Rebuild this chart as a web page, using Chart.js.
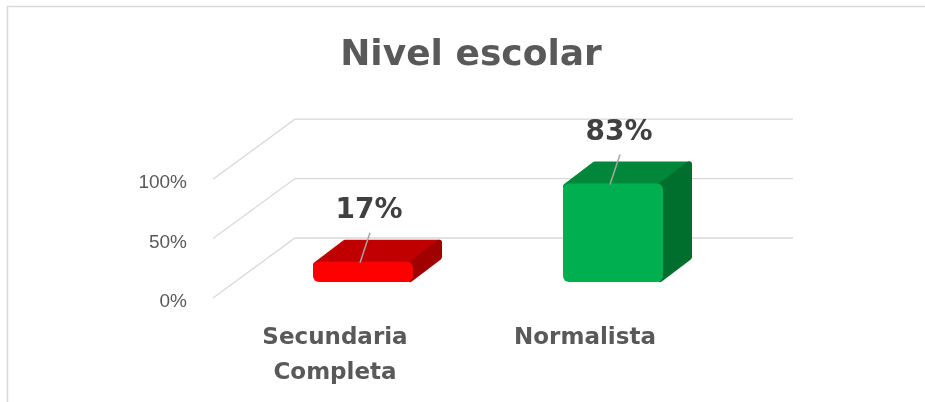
<!DOCTYPE html>
<html>
<head>
<meta charset="utf-8">
<script src="https://cdn.jsdelivr.net/npm/chart.js@4"></script>
<style>
  html, body { margin: 0; padding: 0; background: #fff; }
  #wrap { width: 925px; height: 402px; position: relative; }
</style>
</head>
<body>
<div id="wrap"><canvas id="chart"></canvas></div>
<script>
const categories = [["Secundaria", "Completa"], "Normalista"];
const values = [17, 83];
const tickValues = [0, 50, 100];

const frontColors = ["#ff0000", "#00b050"];
const topColors = ["#c00000", "#00873a"];
const sideColors = ["#a00000", "#006f2e"];

// fake 3D offsets
const DX = 29, DY = -22;            // bar depth
const WALL_DX = 82, WALL_DY = -60;  // floor to back wall
const FRONT_DX = -25, FRONT_DY = 16; // bar plane to front edge

const frame = {
  id: "frame",
  beforeDraw(chart) {
    const ctx = chart.ctx;
    const a = chart.chartArea;
    const yScale = chart.scales.y;
    ctx.save();
    ctx.fillStyle = "#fff";
    ctx.fillRect(0, 0, chart.width, chart.height);
    ctx.strokeStyle = "#d9d9d9";
    ctx.lineWidth = 1.5;
    ctx.beginPath();
    ctx.moveTo(7.5, chart.height + 2);
    ctx.lineTo(7.5, 6.5);
    ctx.lineTo(chart.width + 2, 6.5);
    ctx.stroke();

    // grid: side wall diagonal + back wall line
    const x0 = a.left + FRONT_DX;
    ctx.lineWidth = 1.3;
    tickValues.forEach(v => {
      const py = yScale.getPixelForValue(v) + FRONT_DY;
      ctx.beginPath();
      ctx.moveTo(x0, py);
      ctx.lineTo(x0 + WALL_DX, py + WALL_DY);
      ctx.lineTo(a.right + 55, py + WALL_DY);
      ctx.stroke();
    });
    ctx.restore();
  }
};

const faces = {
  id: "faces",
  beforeDatasetsDraw(chart) {
    const ctx = chart.ctx;
    chart.getDatasetMeta(0).data.forEach((bar, i) => {
      const { x, y, base, width } = bar.getProps(["x", "y", "base", "width"], true);
      const l = x - width / 2, r = x + width / 2;
      ctx.save();
      ctx.lineJoin = "round";
      ctx.lineWidth = 6;

      // top face
      ctx.fillStyle = ctx.strokeStyle = topColors[i];
      ctx.beginPath();
      ctx.moveTo(l + 3, y + 3);
      ctx.lineTo(l + DX + 3, y + DY + 3);
      ctx.lineTo(r + DX - 3, y + DY + 3);
      ctx.lineTo(r - 3, y + 3);
      ctx.closePath();
      ctx.fill();
      ctx.stroke();

      // side face
      ctx.fillStyle = ctx.strokeStyle = sideColors[i];
      ctx.beginPath();
      ctx.moveTo(r - 3, y + 3);
      ctx.lineTo(r + DX - 3, y + DY + 3);
      ctx.lineTo(r + DX - 3, base + DY - 3);
      ctx.lineTo(r - 3, base - 3);
      ctx.closePath();
      ctx.fill();
      ctx.stroke();
      ctx.restore();
    });
  },
  afterDatasetsDraw(chart) {
    const ctx = chart.ctx;
    chart.getDatasetMeta(0).data.forEach((bar, i) => {
      const { x, y } = bar.getProps(["x", "y"], true);
      ctx.save();
      // leader line
      ctx.strokeStyle = "#a6a6a6";
      ctx.lineWidth = 1.5;
      ctx.beginPath();
      ctx.moveTo(x + 7, y - 29);
      ctx.lineTo(x - 3, y + 1);
      ctx.stroke();
      // value label
      ctx.fillStyle = "#404040";
      ctx.font = "bold 28px 'DejaVu Sans'";
      ctx.textAlign = "center";
      ctx.textBaseline = "middle";
      ctx.fillText(values[i] + "%", x + 6, y - 51);
      ctx.restore();
    });
  }
};

new Chart(document.getElementById("chart"), {
  type: "bar",
  data: {
    labels: categories,
    datasets: [{
      data: values,
      backgroundColor: frontColors,
      barPercentage: 0.4,
      categoryPercentage: 1,
      borderRadius: 6,
      borderSkipped: false
    }]
  },
  options: {
    responsive: true,
    maintainAspectRatio: false,
    animation: false,
    layout: { padding: { left: 17, right: 0, top: 0, bottom: 0 } },
    plugins: {
      legend: { display: false },
      tooltip: { enabled: false },
      title: {
        display: true,
        text: "Nivel escolar",
        color: "#595959",
        font: { family: "DejaVu Sans", size: 36, weight: "bold" },
        padding: { top: 34, bottom: 86 }
      }
    },
    scales: {
      x: {
        offset: true,
        grid: { display: false, drawTicks: false },
        border: { display: false },
        ticks: {
          color: "#595959",
          font: { family: "DejaVu Sans", size: 23, weight: "bold", lineHeight: 1.55 },
          padding: 38,
          labelOffset: -28,
          maxRotation: 0,
          autoSkip: false
        },
        afterFit: s => { s.height = 120; }
      },
      y: {
        min: 0,
        max: 100,
        grid: { display: false, drawTicks: false },
        border: { display: false },
        afterBuildTicks: s => { s.ticks = tickValues.map(v => ({ value: v })); },
        ticks: {
          color: "#595959",
          font: { family: "Liberation Sans", size: 19 },
          padding: 51,
          labelOffset: 20,
          callback: v => v + "%"
        },
        afterFit: s => { s.width = 221; }
      },
      // empty right axis, only reserves the space right of the plot
      y2: {
        position: "right",
        grid: { display: false, drawTicks: false },
        border: { display: false },
        ticks: { display: false },
        afterFit: s => { s.width = 187; }
      }
    }
  },
  plugins: [frame, faces]
});
</script>
</body>
</html>
